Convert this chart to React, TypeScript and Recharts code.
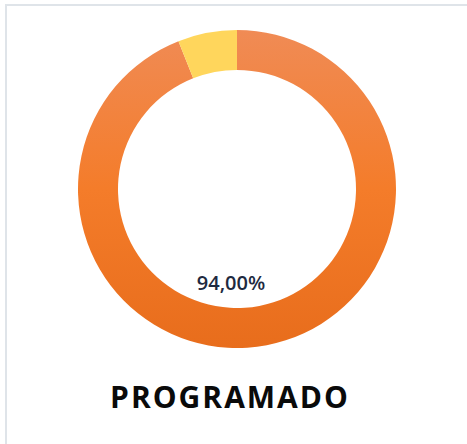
import { PieChart, Pie, Cell } from "recharts";

const categories = ["Programado", "Restante"];
const values = [94, 6];
const centerLabel = "94,00%";
const title = "PROGRAMADO";

const data = categories.map((name, i) => ({ name, value: values[i] }));

export default function App() {
  return (
    <div style={{ position: "absolute", left: 0, top: 0, width: 467, height: 444, background: "#fff", fontFamily: "'Open Sans', sans-serif" }}>
      {/* panel border */}
      <div style={{ position: "absolute", left: 5, top: 4, width: 470, height: 450, borderTop: "2px solid #dfe4e9", borderLeft: "2px solid #dfe4e9" }} />
      <PieChart width={467} height={444} style={{ position: "absolute", left: 0, top: 0 }}>
        <defs>
          <linearGradient id="orangeGrad" x1="0" y1="0" x2="0" y2="1">
            <stop offset="0%" stopColor="#f08b55" />
            <stop offset="50%" stopColor="#f47c2a" />
            <stop offset="100%" stopColor="#e86d1c" />
          </linearGradient>
        </defs>
        <Pie
          data={data}
          dataKey="value"
          cx={232}
          cy={184}
          innerRadius={119}
          outerRadius={159}
          startAngle={90}
          endAngle={-270}
          stroke="none"
          isAnimationActive={false}
        >
          <Cell fill="url(#orangeGrad)" />
          <Cell fill="#ffd65c" />
        </Pie>
      </PieChart>
      <div style={{ position: "absolute", left: 131, width: 200, top: 271, textAlign: "center", fontSize: 20, fontWeight: 600, color: "#1e2a40", lineHeight: "24px" }}>
        {centerLabel}
      </div>
      <div style={{ position: "absolute", left: 30, width: 400, top: 377, textAlign: "center", fontSize: 30, fontWeight: 700, color: "#0a0a0a", lineHeight: "40px", letterSpacing: 2 }}>
        {title}
      </div>
    </div>
  );
}
